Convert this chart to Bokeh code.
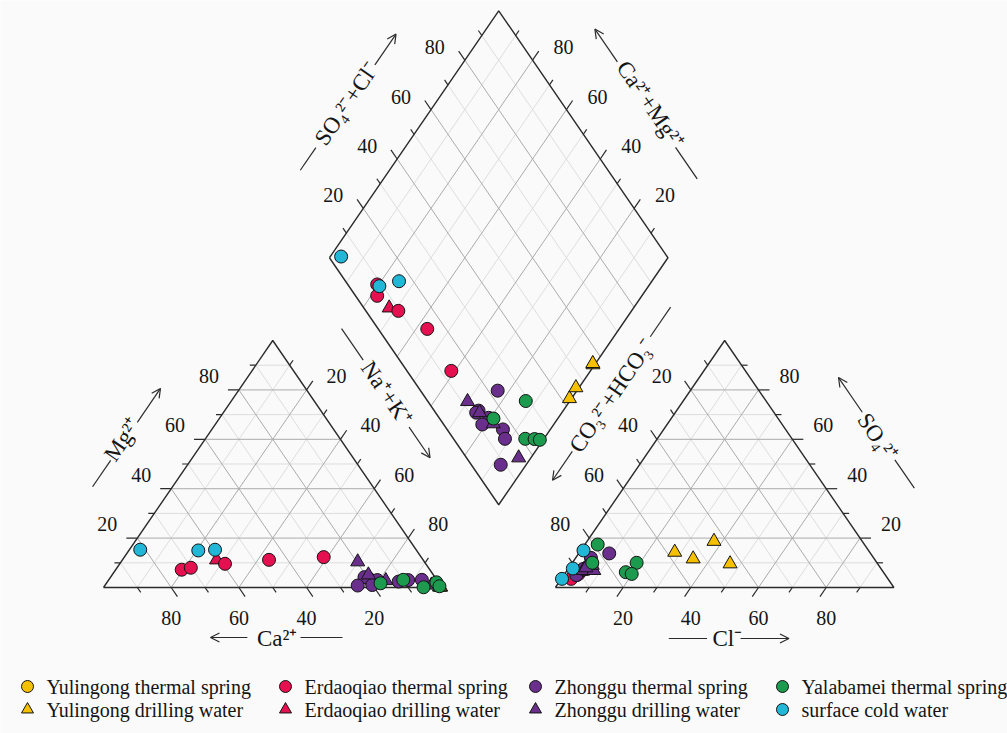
import math
import numpy as np
from bokeh.plotting import figure
from bokeh.models import Range1d, Arrow, OpenHead
from bokeh.core.properties import value
from bokeh.embed import file_html
from bokeh.resources import INLINE

# ---------------------------------------------------------------------------
# Samples, meq %: (Ca, Mg, SO4, Cl); Na+K and CO3+HCO3 are the remainders
# ---------------------------------------------------------------------------
yulingong_spring = []
yulingong_drill = [
    (0.4, 0.2, 14.3, 28.1),
    (0.6, 0.3, 11.6, 34.9),
    (0.3, 0.2, 18.7, 37.5),
    (0.5, 0.3, 9.6, 46.8),
]
erdaoqiao_spring = [
    (73.3, 7.2, 5.0, 3.7),
    (70.2, 8.0, 3.5, 2.9),
    (59.3, 9.6, 5.5, 4.1),
    (45.5, 11.2, 8.5, 6.0),
    (28.8, 12.3, 7.5, 5.6),
]
erdaoqiao_drill = [
    (61.0, 11.2, 4.5, 3.0),
]
zhonggu_spring = [
    (19.8, 3.6, 13.8, 9.0),
    (20.8, 4.2, 8.0, 5.1),
    (17.6, 3.0, 9.0, 5.6),
    (20.1, 1.0, 7.0, 4.4),
    (11.6, 2.4, 12.0, 4.5),
    (8.5, 3.0, 9.0, 6.2),
    (4.4, 3.1, 5.0, 3.7),
    (24.5, 0.8, 7.5, 4.5),
]
zhonggu_drill = [
    (19.7, 10.4, 6.9, 4.8),
    (15.2, 2.8, 6.9, 7.9),
    (2.6, 1.0, 9.0, 6.4),
    (19.2, 5.1, 8.0, 5.0),
]
yalabamei_spring = [
    (17.3, 1.7, 10.0, 5.9),
    (9.9, 3.1, 10.0, 19.0),
    (5.4, 0.1, 17.4, 3.8),
    (0.6, 2.1, 6.2, 17.7),
    (0.5, 0.5, 5.5, 19.8),
]
surface_cold = [
    (81.5, 15.3, 3.5, 0.2),
    (64.5, 15.0, 7.7, 1.3),
    (59.4, 15.3, 15.0, 0.8),
]

# (label, samples, marker, colour) in drawing order
series = [
    ("Yulingong thermal spring", yulingong_spring, "circle", "#F5C000"),
    ("Yulingong drilling water", yulingong_drill, "triangle", "#F5C000"),
    ("Erdaoqiao drilling water", erdaoqiao_drill, "triangle", "#E5104F"),
    ("Erdaoqiao thermal spring", erdaoqiao_spring, "circle", "#E5104F"),
    ("Zhonggu thermal spring", zhonggu_spring, "circle", "#6A2F8C"),
    ("Zhonggu drilling water", zhonggu_drill, "triangle", "#6A2F8C"),
    ("Yalabamei thermal spring", yalabamei_spring, "circle", "#1C9A4E"),
    ("surface cold water", surface_cold, "circle", "#22B7D6"),
]

legend_rows = [
    ["Yulingong thermal spring", "Erdaoqiao thermal spring",
     "Zhonggu thermal spring", "Yalabamei thermal spring"],
    ["Yulingong drilling water", "Erdaoqiao drilling water",
     "Zhonggu drilling water", "surface cold water"],
]

tick_values = [20, 40, 60, 80]

# ---------------------------------------------------------------------------
# Piper geometry (triangle side = 1)
# ---------------------------------------------------------------------------
H = math.sqrt(3) / 2
GAP = 0.335
OX = 1 + GAP

WIDTH, HEIGHT = 1007, 733
LEFT_PX, BASE_PX = 103.0, 587.0
KX, KY = 338.5, 285.2          # pixels per unit along x and y

BG = "#fafafa"
INK = "#2b2b2b"
TEXT = "#151515"
SERIF = "Liberation Serif"


def to_screen(x, y):
    return LEFT_PX + KX * x, BASE_PX - KY * y


def to_data(sx, sy):
    return (sx - LEFT_PX) / KX, (BASE_PX - sy) / KY


def cation_xy(ca, mg):
    nak = 1 - ca - mg
    return nak + mg / 2, mg * H


def anion_xy(so4, cl):
    return OX + cl + so4 / 2, so4 * H


def diamond_xy(nak, sc):
    return (nak + OX + sc) / 2, H * (OX + sc - nak)


p = figure(width=WIDTH, height=HEIGHT,
           x_range=Range1d(to_data(0, 0)[0], to_data(WIDTH, 0)[0]),
           y_range=Range1d(to_data(0, HEIGHT)[1], to_data(0, 0)[1]),
           x_axis_type=None, y_axis_type=None,
           output_backend="svg", toolbar_location=None,
           min_border=0, outline_line_color=None,
           background_fill_color=BG, border_fill_color=BG)

# ---------------------------------------------------------------------------
# Grid lines at 10 % steps (20 % steps darker)
# ---------------------------------------------------------------------------
grid = {"minor": [[], [], [], []], "major": [[], [], [], []]}


def add_seg(kind, a, b):
    g = grid[kind]
    g[0].append(a[0]); g[1].append(a[1]); g[2].append(b[0]); g[3].append(b[1])


for k10 in range(1, 10):
    k = k10 / 10
    kind = "major" if k10 % 2 == 0 else "minor"
    # cation triangle
    add_seg(kind, (k / 2, k * H), (1 - k / 2, k * H))
    add_seg(kind, (k, 0), (k + (1 - k) / 2, (1 - k) * H))
    add_seg(kind, (1 - k, 0), ((1 - k) / 2, (1 - k) * H))
    # anion triangle
    add_seg(kind, (OX + k / 2, k * H), (OX + 1 - k / 2, k * H))
    add_seg(kind, (OX + k, 0), (OX + k + (1 - k) / 2, (1 - k) * H))
    add_seg(kind, (OX + 1 - k, 0), (OX + (1 - k) / 2, (1 - k) * H))
    # diamond
    add_seg(kind, diamond_xy(k, 0), diamond_xy(k, 1))
    add_seg(kind, diamond_xy(0, k), diamond_xy(1, k))

for kind, colour in (("minor", "#dddddd"), ("major", "#ababab")):
    x0, y0, x1, y1 = grid[kind]
    p.segment(x0=x0, y0=y0, x1=x1, y1=y1, line_color=colour, line_width=1)

# ---------------------------------------------------------------------------
# Outlines
# ---------------------------------------------------------------------------
outlines = [
    [(0, 0), (1, 0), (0.5, H), (0, 0)],
    [(OX, 0), (OX + 1, 0), (OX + 0.5, H), (OX, 0)],
    [diamond_xy(0, 0), diamond_xy(0, 1), diamond_xy(1, 1), diamond_xy(1, 0), diamond_xy(0, 0)],
]
for poly in outlines:
    p.line([q[0] for q in poly], [q[1] for q in poly], line_color=INK, line_width=1.4)

# ---------------------------------------------------------------------------
# Ticks and tick labels
# ---------------------------------------------------------------------------
# (point on the edge for a value k, outward direction, label pixel offset)
tick_axes = [
    (lambda k: (k / 2, k * H), (-1, 0), (-30, -14)),                           # Mg
    (lambda k: (1 - k, 0), (0.5, -H), (0, 30)),                                # Ca
    (lambda k: (k + (1 - k) / 2, (1 - k) * H), (0.5, H), (30, -14)),           # Na+K
    (lambda k: (OX + 1 - k / 2, k * H), (1, 0), (31, -14)),                    # SO4
    (lambda k: (OX + k, 0), (-0.5, -H), (0, 30)),                              # Cl
    (lambda k: (OX + (1 - k) / 2, (1 - k) * H), (-0.5, H), (-29, -14)),        # CO3+HCO3
    (lambda k: diamond_xy(0, k), (-0.5, H), (-30, -13)),                       # SO4+Cl
    (lambda k: diamond_xy(1 - k, 1), (0.5, H), (31, -13)),                     # Ca+Mg
]

tx0, ty0, tx1, ty1 = [], [], [], []
lab_x, lab_y, lab_t, lab_dx, lab_dy = [], [], [], [], []
for where, (vx, vy), (ox, oy) in tick_axes:
    slen = math.hypot(vx * KX, vy * KY)
    for k10 in range(1, 10):
        k = k10 / 10
        px0, py0 = where(k)
        length = 11 if k10 % 2 == 0 else 6
        tx0.append(px0); ty0.append(py0)
        tx1.append(px0 + vx * length / slen); ty1.append(py0 + vy * length / slen)
    for v in tick_values:
        lx, ly = where(v / 100)
        lab_x.append(lx); lab_y.append(ly); lab_t.append(str(v))
        lab_dx.append(ox); lab_dy.append(oy)

p.segment(x0=tx0, y0=ty0, x1=tx1, y1=ty1, line_color=INK, line_width=1.2)
p.text(x=lab_x, y=lab_y, text=lab_t, x_offset=lab_dx, y_offset=lab_dy,
       text_font=value(SERIF), text_font_size="20px", text_color=TEXT,
       text_align="center", text_baseline="middle")

# ---------------------------------------------------------------------------
# Axis titles with arrows, placed relative to their edge
# ---------------------------------------------------------------------------


def edge_frame(p0, p1):
    s0 = np.array(to_screen(*p0))
    s1 = np.array(to_screen(*p1))
    u = (s1 - s0) / np.linalg.norm(s1 - s0)
    n = np.array([u[1], -u[0]])
    return s0, s1, u, n


def edge_point(p0, p1, t, d):
    s0, s1, u, n = edge_frame(p0, p1)
    s = s0 + t * (s1 - s0) + d * n
    return to_data(s[0], s[1])


L_BL, L_BR, L_T = (0, 0), (1, 0), (0.5, H)
R_BL, R_BR, R_T = (OX, 0), (OX + 1, 0), (OX + 0.5, H)
D_L, D_T, D_R = diamond_xy(0, 0), diamond_xy(0, 1), diamond_xy(1, 1)

titles = [
    # edge, text, (t, d) of text, line span (t0, t1, d), arrow (tail t, head t, d)
    (L_BL, L_T, "Mg²⁺", (0.444, 68), (0.257, 0.364, 66), (0.519, 0.656, 65.5)),
    (L_BL, L_BR, "Ca²⁺", (0.513, -51), (0.582, 0.706, -50), (0.425, 0.316, -50)),
    (L_T, L_BR, "Na⁺+K⁺", (0.361, 64), (0.097, 0.225, 63.5), (0.496, 0.62, 63.5)),
    (R_BL, R_T, "CO₃²⁻+HCO₃⁻", (0.636, 62), (0.87, 0.99, 63.5), (0.407, 0.29, 63)),
    (R_T, R_BR, "SO₄²⁺", (0.555, 71.5), (0.65, 0.765, 73), (0.4575, 0.317, 73)),
    (R_BL, R_BR, "Cl⁻", (0.508, -51), (0.335, 0.448, -51), (0.547, 0.69, -51)),
    (D_L, D_T, "SO₄²⁻+Cl⁻", (0.457, 73), (0.186, 0.278, 73.5), (0.617, 0.742, 71.5)),
    (D_T, D_R, "Ca²⁺+Mg²⁺", (0.545, 72), (0.71, 0.838, 68.7), (0.365, 0.232, 69)),
]

for p0, p1, label, (tt, dt), (l0, l1, dl), (a0, a1, da) in titles:
    _, _, u, _ = edge_frame(p0, p1)
    ang = -math.atan2(u[1], u[0])
    cx, cy = edge_point(p0, p1, tt, dt)
    p.text(x=[cx], y=[cy], text=[label], angle=ang,
           text_font=value(SERIF), text_font_size="23px", text_color=TEXT,
           text_align="center", text_baseline="middle")
    a = edge_point(p0, p1, l0, dl)
    b = edge_point(p0, p1, l1, dl)
    p.line([a[0], b[0]], [a[1], b[1]], line_color=INK, line_width=1.2)
    a = edge_point(p0, p1, a0, da)
    b = edge_point(p0, p1, a1, da)
    p.add_layout(Arrow(end=OpenHead(size=9, line_color=INK, line_width=1.2),
                       x_start=a[0], y_start=a[1], x_end=b[0], y_end=b[1],
                       line_color=INK, line_width=1.2))

# ---------------------------------------------------------------------------
# Samples in the three fields
# ---------------------------------------------------------------------------
for label, rows, marker, colour in series:
    if not rows:
        continue
    ca = np.array([r[0] for r in rows]) / 100
    mg = np.array([r[1] for r in rows]) / 100
    so4 = np.array([r[2] for r in rows]) / 100
    cl = np.array([r[3] for r in rows]) / 100
    nak = 1 - ca - mg
    cx, cy = cation_xy(ca, mg)
    axx, axy = anion_xy(so4, cl)
    dx, dy = diamond_xy(nak, so4 + cl)
    xs = np.concatenate([cx, axx, dx])
    ys = np.concatenate([cy, axy, dy])
    p.scatter(x=xs, y=ys, marker=marker, size=13 if marker == "circle" else 14,
              fill_color=colour, line_color="#141414", line_width=1)

# ---------------------------------------------------------------------------
# Legend (two rows of four entries below the diagram)
# ---------------------------------------------------------------------------
style = {s[0]: (s[2], s[3]) for s in series}
col_px = [27, 285, 535, 782]
row_px = [686, 709]
for r, names in enumerate(legend_rows):
    for c, name in enumerate(names):
        marker, colour = style[name]
        mx, my = to_data(col_px[c], row_px[r])
        p.scatter(x=[mx], y=[my], marker=marker, size=12,
                  fill_color=colour, line_color="#141414", line_width=1)
        lx, ly = to_data(col_px[c] + 19, row_px[r])
        p.text(x=[lx], y=[ly], text=[name], text_font=value(SERIF),
               text_font_size="20px", text_color=TEXT,
               text_align="left", text_baseline="middle")

open("out.html", "w").write(file_html(p, INLINE))
